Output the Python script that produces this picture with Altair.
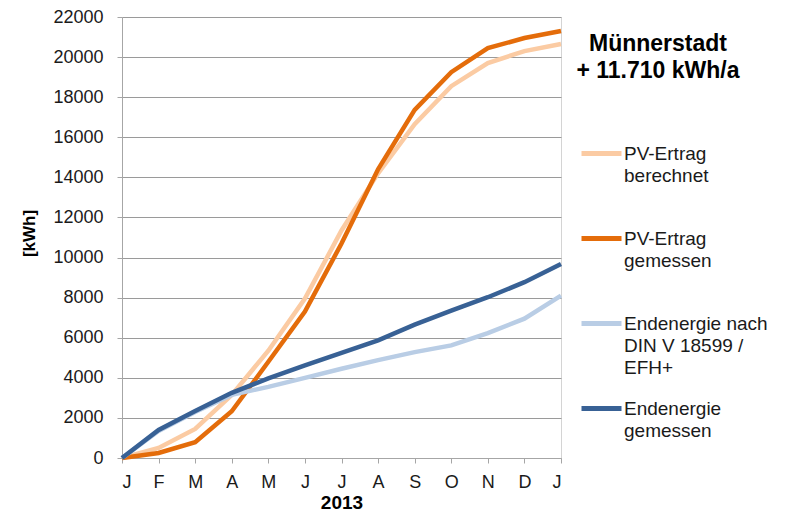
import altair as alt
import pandas as pd

months = ["J", "F", "M", "A", "M", "J", "J", "A", "S", "O", "N", "D", "J"]
series = [
    "PV-Ertrag|berechnet|",
    "PV-Ertrag|gemessen|",
    "Endenergie nach|DIN V 18599 /|EFH+",
    "Endenergie|gemessen|",
]
colors = ["#FBCBA3", "#E46C0A", "#B9CDE5", "#386195"]

pv_berechnet = [0, 500, 1450, 3150, 5350, 7950, 11350, 14200, 16650, 18550, 19700, 20300, 20650]
pv_gemessen = [0, 250, 790, 2330, 4800, 7300, 10700, 14400, 17370, 19250, 20450, 20950, 21300]
end_din = [0, 1350, 2300, 3150, 3550, 4000, 4450, 4880, 5280, 5620, 6230, 6950, 8100]
end_gemessen = [0, 1400, 2350, 3250, 3970, 4620, 5240, 5870, 6650, 7350, 8020, 8770, 9680]

title_lines = ["Münnerstadt", "+ 11.710 kWh/a"]
x_title = "2013"
y_title = "[kWh]"
y_ticks = list(range(0, 22001, 2000))

rows = []
for name, vals in zip(series, [pv_berechnet, pv_gemessen, end_din, end_gemessen]):
    for i, v in enumerate(vals):
        rows.append({"idx": i, "value": v, "series": name})
df = pd.DataFrame(rows)

month_expr = "[" + ",".join("'" + m + "'" for m in months) + "][datum.value]"

chart = alt.Chart(df).mark_line(strokeWidth=4.5, strokeJoin="miter").encode(
    x=alt.X(
        "idx:Q",
        scale=alt.Scale(domain=[0, 12], nice=False, zero=False),
        axis=alt.Axis(
            values=list(range(13)),
            labelExpr=month_expr,
            grid=False,
            tickSize=5,
            labelPadding=10,
            title=x_title,
            titleFontWeight="bold",
            titleFontSize=19,
            titleY=44,
            titleBaseline="middle",
        ),
    ),
    y=alt.Y(
        "value:Q",
        scale=alt.Scale(domain=[0, 22000], nice=False),
        axis=alt.Axis(
            values=y_ticks,
            format="d",
            tickSize=5,
            labelPadding=14,
            title=y_title,
            titleFontWeight="bold",
            titleFontSize=17,
            titleX=-93,
            titleY=216,
            titleAngle=270,
            titleBaseline="middle",
        ),
    ),
    color=alt.Color(
        "series:N",
        sort=series,
        scale=alt.Scale(domain=series, range=colors),
        legend=alt.Legend(
            title=None,
            orient="none",
            legendX=457,
            legendY=114,
            symbolType="stroke",
            symbolSize=1600,
            symbolStrokeWidth=5,
            labelExpr="split(datum.label, '|')",
            labelFontSize=19,
            labelColor="#1a1a1a",
            labelOffset=0,
            labelBaseline="middle",
            rowPadding=8,
            labelLimit=300,
        ),
    ),
    order=alt.Order("series_order:Q"),
).transform_calculate(
    series_order="indexof(" + str(series) + ", datum.series)"
).properties(
    width=439,
    height=441,
    title=alt.TitleParams(
        text=title_lines,
        fontSize=23,
        fontWeight="bold",
        anchor="start",
        frame="group",
        align="center",
        dx=536,
        dy=79,
        lineHeight=27,
        color="#000000",
    ),
    autosize=alt.AutoSizeParams(type="none"),
    padding={"left": 114, "top": 9, "right": 215, "bottom": 54},
).configure(
    font="Liberation Sans",
    style={"guide-label": {"lineHeight": 22}},
).configure_view(
    stroke="#d4d4d4", strokeWidth=1
).configure_axis(
    labelFontSize=18,
    labelColor="#1a1a1a",
    titleColor="#000000",
    gridColor="#9a9a9a",
    domainColor="#a6a6a6",
    tickColor="#a6a6a6",
)

chart.save("out.html", embed_options={"renderer": "svg", "actions": False})
